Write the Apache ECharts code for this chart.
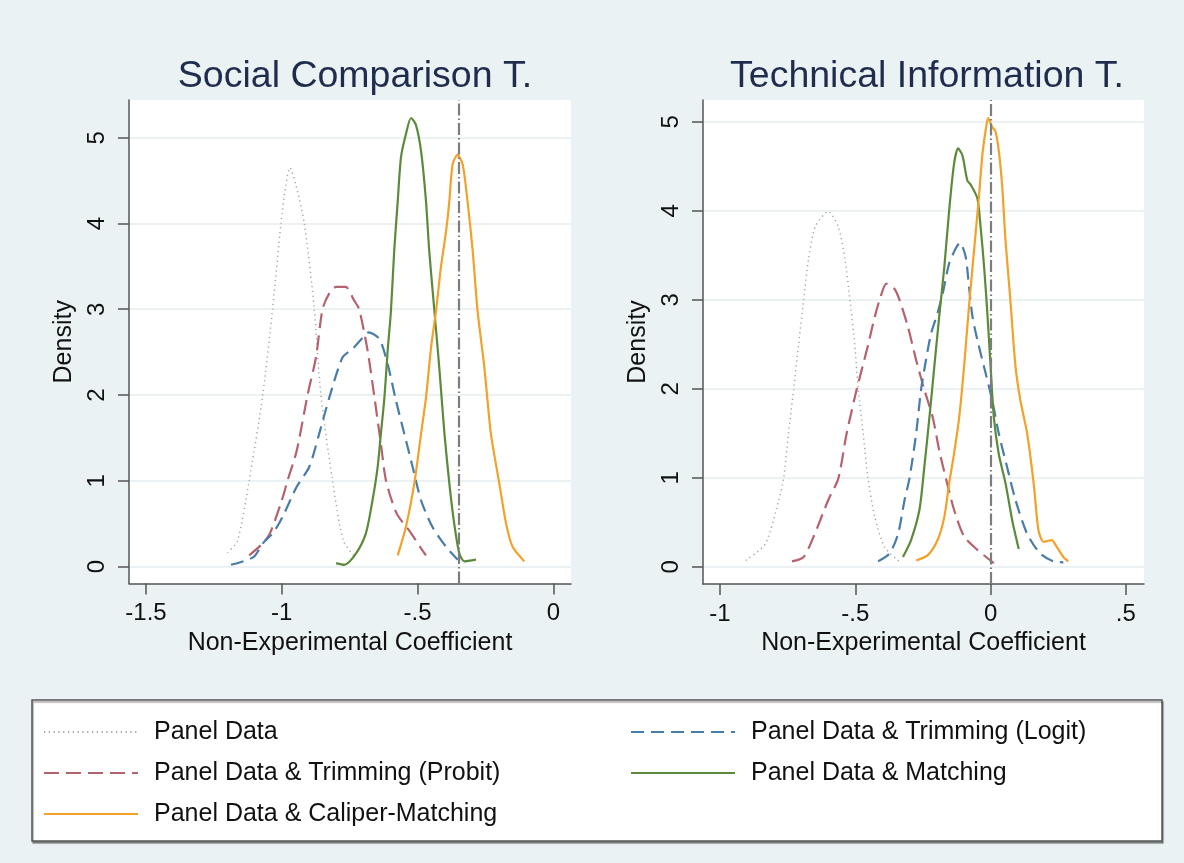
<!DOCTYPE html>
<html>
<head>
<meta charset="utf-8">
<script src="https://cdn.jsdelivr.net/npm/echarts@6/dist/echarts.min.js"></script>
<style>
html,body{margin:0;padding:0;background:#eaf2f3;}
#chart{width:1184px;height:863px;}
</style>
</head>
<body>
<div id="chart"></div>
<script>
// ---------- DATA ----------
const panelTitles = ['Social Comparison T.', 'Technical Information T.'];
const seriesNames = ['Panel Data', 'Panel Data & Trimming (Probit)', 'Panel Data & Caliper-Matching',
                     'Panel Data & Trimming (Logit)', 'Panel Data & Matching'];
const xTicksSC = [-1.5, -1, -0.5, 0];
const xTicksTI = [-1, -0.5, 0, 0.5];
const yTicks = [0, 1, 2, 3, 4, 5];
const refLines = [-0.355, 0];

// Social Comparison T. densities [x, density]
const scPanel = [[-1.20,0.16],[-1.163,0.30],[-1.12,1.0],[-1.07,2.0],[-1.034,3.0],[-1.003,4.0],[-0.985,4.45],[-0.97,4.65],
  [-0.948,4.45],[-0.917,4.0],[-0.88,3.0],[-0.856,2.0],[-0.813,1.0],[-0.773,0.3],[-0.727,0.1]];
const scProbit = [[-1.12,0.13],[-1.07,0.27],[-1.043,0.39],[-1.0,0.77],[-0.979,1.0],[-0.945,1.35],[-0.905,2.0],[-0.874,2.44],
  [-0.85,3.0],[-0.826,3.18],[-0.80,3.26],[-0.765,3.26],[-0.733,3.1],[-0.715,3.0],[-0.684,2.52],[-0.66,2.0],[-0.635,1.43],
  [-0.616,1.0],[-0.577,0.62],[-0.524,0.39],[-0.491,0.23],[-0.469,0.13]];
const scLogit = [[-1.187,0.02],[-1.104,0.11],[-1.07,0.27],[-1.03,0.4],[-0.997,0.58],[-0.945,0.93],[-0.899,1.16],[-0.862,1.55],
  [-0.825,1.97],[-0.776,2.44],[-0.739,2.54],[-0.69,2.71],[-0.68,2.73],[-0.64,2.65],[-0.61,2.36],[-0.58,1.94],[-0.549,1.55],
  [-0.518,1.16],[-0.487,0.77],[-0.445,0.46],[-0.395,0.23],[-0.352,0.08]];
const scMatching = [[-0.80,0.04],[-0.77,0.02],[-0.727,0.15],[-0.69,0.39],[-0.666,0.77],[-0.647,1.16],[-0.635,1.55],[-0.622,1.97],
  [-0.61,2.52],[-0.598,2.98],[-0.586,3.68],[-0.573,4.26],[-0.561,4.77],[-0.543,5.04],[-0.524,5.23],[-0.506,5.15],[-0.487,4.84],
  [-0.469,4.26],[-0.457,3.68],[-0.438,2.98],[-0.42,2.32],[-0.401,1.55],[-0.383,0.97],[-0.365,0.5],[-0.346,0.15],[-0.328,0.06],[-0.285,0.08]];
const scCaliper = [[-0.573,0.13],[-0.543,0.46],[-0.512,0.97],[-0.487,1.55],[-0.469,1.97],[-0.45,2.56],[-0.432,2.98],[-0.414,3.49],
  [-0.395,3.91],[-0.383,4.26],[-0.371,4.69],[-0.353,4.8],[-0.334,4.69],[-0.316,4.26],[-0.297,3.68],[-0.279,2.98],[-0.254,2.32],
  [-0.23,1.55],[-0.199,0.97],[-0.174,0.5],[-0.15,0.23],[-0.107,0.06]];

// Technical Information T. densities [x, density]
const tiPanel = [[-0.905,0.07],[-0.832,0.26],[-0.783,0.75],[-0.765,0.99],[-0.747,1.5],[-0.728,1.99],[-0.71,2.49],[-0.691,3.0],
  [-0.673,3.45],[-0.648,3.82],[-0.6,3.99],[-0.563,3.82],[-0.538,3.45],[-0.52,3.0],[-0.502,2.49],[-0.489,1.99],[-0.471,1.5],
  [-0.453,0.99],[-0.428,0.56],[-0.392,0.22],[-0.337,0.06]];
const tiProbit = [[-0.734,0.06],[-0.691,0.11],[-0.654,0.34],[-0.6,0.75],[-0.563,0.99],[-0.532,1.5],[-0.495,1.99],[-0.453,2.49],
  [-0.428,2.81],[-0.41,3.0],[-0.385,3.18],[-0.355,3.12],[-0.337,3.0],[-0.306,2.7],[-0.275,2.32],[-0.245,1.99],[-0.214,1.68],
  [-0.19,1.31],[-0.165,0.99],[-0.135,0.64],[-0.098,0.34],[-0.049,0.19],[0.012,0.04]];
const tiLogit = [[-0.416,0.06],[-0.373,0.15],[-0.342,0.37],[-0.318,0.75],[-0.3,0.99],[-0.275,1.5],[-0.257,1.99],[-0.239,2.32],
  [-0.22,2.62],[-0.196,2.85],[-0.177,3.07],[-0.153,3.41],[-0.128,3.58],[-0.113,3.64],[-0.092,3.48],[-0.08,3.15],[-0.067,2.81],
  [-0.049,2.55],[-0.018,2.17],[0.006,1.87],[0.03,1.5],[0.061,1.12],[0.092,0.75],[0.135,0.37],[0.183,0.15],[0.232,0.06],[0.269,0.05]];
const tiMatching = [[-0.324,0.11],[-0.294,0.3],[-0.263,0.64],[-0.245,1.12],[-0.226,1.68],[-0.208,2.25],[-0.19,2.81],[-0.171,3.37],
  [-0.153,4.01],[-0.135,4.53],[-0.12,4.7],[-0.104,4.62],[-0.086,4.34],[-0.073,4.29],[-0.049,4.14],[-0.037,3.82],[-0.024,3.37],
  [-0.012,2.85],[0,2.25],[0.012,1.68],[0.03,1.27],[0.055,0.94],[0.08,0.52],[0.104,0.2]];
const tiCaliper = [[-0.275,0.07],[-0.232,0.13],[-0.196,0.3],[-0.171,0.56],[-0.153,0.94],[-0.135,1.27],[-0.116,1.68],[-0.098,2.25],
  [-0.08,2.92],[-0.061,3.56],[-0.043,4.16],[-0.031,4.61],[-0.018,4.91],[-0.009,5.04],[0.006,4.94],[0.018,4.89],[0.03,4.68],
  [0.043,4.27],[0.055,3.67],[0.073,3.0],[0.092,2.25],[0.11,1.87],[0.135,1.5],[0.159,0.94],[0.177,0.41],[0.196,0.28],
  [0.226,0.3],[0.245,0.22],[0.269,0.11],[0.287,0.06]];

// ---------- STYLE ----------
const FONT = '"Liberation Sans", Arial, Helvetica, sans-serif';
const styles = {
  'Panel Data': {color:'#a3a3a3', width:1.5, type:[1.2,3.6]},
  'Panel Data & Trimming (Probit)': {color:'#b5626f', width:2.2, type:[15,7]},
  'Panel Data & Caliper-Matching': {color:'#f2a12a', width:2.2, type:'solid'},
  'Panel Data & Trimming (Logit)': {color:'#4a7ca8', width:2.2, type:[13,7]},
  'Panel Data & Matching': {color:'#5c8a3b', width:2.2, type:'solid'}
};
const panelData = [
  {'Panel Data':scPanel,'Panel Data & Trimming (Probit)':scProbit,'Panel Data & Trimming (Logit)':scLogit,'Panel Data & Matching':scMatching,'Panel Data & Caliper-Matching':scCaliper},
  {'Panel Data':tiPanel,'Panel Data & Trimming (Probit)':tiProbit,'Panel Data & Trimming (Logit)':tiLogit,'Panel Data & Matching':tiMatching,'Panel Data & Caliper-Matching':tiCaliper}
];
const drawOrder = ['Panel Data','Panel Data & Trimming (Probit)','Panel Data & Trimming (Logit)','Panel Data & Matching','Panel Data & Caliper-Matching'];

function fmt(v){
  if (v === 0) return '0';
  let s = String(v);
  s = s.replace(/^(-?)0\./, '$1.');
  return s;
}

const axisLineStyle = {color:'#555', width:1.5};
function xAxis(idx, min, max, ticks){
  return {
    type:'value', gridIndex:idx, min:min, max:max,
    name:'Non-Experimental Coefficient', nameLocation:'middle', nameGap:47,
    nameTextStyle:{fontFamily:FONT, fontSize:25, color:'#111'},
    axisLine:{show:true, onZero:false, lineStyle:axisLineStyle},
    axisTick:{show:true, inside:false, length:11, lineStyle:axisLineStyle, customValues:ticks},
    axisLabel:{fontFamily:FONT, fontSize:24, color:'#111', margin:18, customValues:ticks, formatter:fmt},
    splitLine:{show:false}
  };
}
function yAxis(idx, min, max){
  return {
    type:'value', gridIndex:idx, min:min, max:max,
    name:'Density', nameLocation:'middle', nameGap:52, nameRotate:90,
    nameTextStyle:{fontFamily:FONT, fontSize:25, color:'#111'},
    axisLine:{show:true, onZero:false, lineStyle:axisLineStyle},
    axisTick:{show:true, inside:false, length:11, lineStyle:axisLineStyle, customValues:yTicks},
    axisLabel:{fontFamily:FONT, fontSize:24, color:'#111', margin:20, rotate:90, customValues:yTicks, formatter:fmt},
    splitLine:{show:true, lineStyle:{color:'#e6eef0', width:1.5}}
  };
}

const series = [];
for (let p = 0; p < 2; p++) {
  drawOrder.forEach(function(name){
    const st = styles[name];
    const s = {
      type:'line', name:name, xAxisIndex:p, yAxisIndex:p,
      data: panelData[p][name], symbol:'none', smooth:0.25,
      lineStyle:{color:st.color, width:st.width, type:st.type},
      itemStyle:{color:st.color}, silent:true, z:3
    };
    if (name === 'Panel Data & Caliper-Matching') {
      s.markLine = {
        silent:true, symbol:['none','none'], label:{show:false}, animation:false,
        lineStyle:{color:'#7d7d7d', width:2.2, type:[12,3,1.5,3]},
        data:[{xAxis: refLines[p]}]
      };
    }
    series.push(s);
  });
}

const legendCommon = {
  orient:'vertical', padding:0, itemHeight:16, itemGap:13,
  selectedMode:false,
  itemStyle:{opacity:0, color:'rgba(0,0,0,0)', borderWidth:0},
  textStyle:{fontFamily:FONT, fontSize:25, color:'#111', lineHeight:28, padding:[0,0,0,11]}
};

const option = {
  backgroundColor:'#eaf2f3',
  animation:false,
  title:[
    {text:panelTitles[0], left:350, top:53, textAlign:'center', textStyle:{fontFamily:FONT, fontSize:37.5, fontWeight:'normal', color:'#1f2c4e'}},
    {text:panelTitles[1], left:922, top:53, textAlign:'center', textStyle:{fontFamily:FONT, fontSize:37.5, fontWeight:'normal', color:'#1f2c4e'}}
  ],
  grid:[
    {left:129, top:100, width:442, height:483.5, show:true, backgroundColor:'#ffffff', borderWidth:0, containLabel:false},
    {left:703, top:100, width:441, height:484, show:true, backgroundColor:'#ffffff', borderWidth:0, containLabel:false}
  ],
  xAxis:[ xAxis(0, -1.5625, 0.065, xTicksSC), xAxis(1, -1.063, 0.567, xTicksTI) ],
  yAxis:[ yAxis(0, -0.198, 5.44), yAxis(1, -0.194, 5.244) ],
  graphic:[
    {type:'rect', z:0, shape:{x:32, y:700, width:1130, height:141},
     style:{fill:'#ffffff', stroke:'#555555', lineWidth:1.5, shadowColor:'rgba(0,0,0,0.35)', shadowOffsetX:1, shadowOffsetY:2, shadowBlur:1}}
  ],
  legend:[
    Object.assign({}, legendCommon, {left:43, top:718, itemWidth:94, data:[seriesNames[0], seriesNames[1], seriesNames[2]]}),
    Object.assign({}, legendCommon, {left:630, top:718, itemWidth:104, data:[seriesNames[3], seriesNames[4]]})
  ],
  series:series
};

const chart = echarts.init(document.getElementById('chart'), null, {renderer:'canvas'});
chart.setOption(option);
</script>
</body>
</html>
